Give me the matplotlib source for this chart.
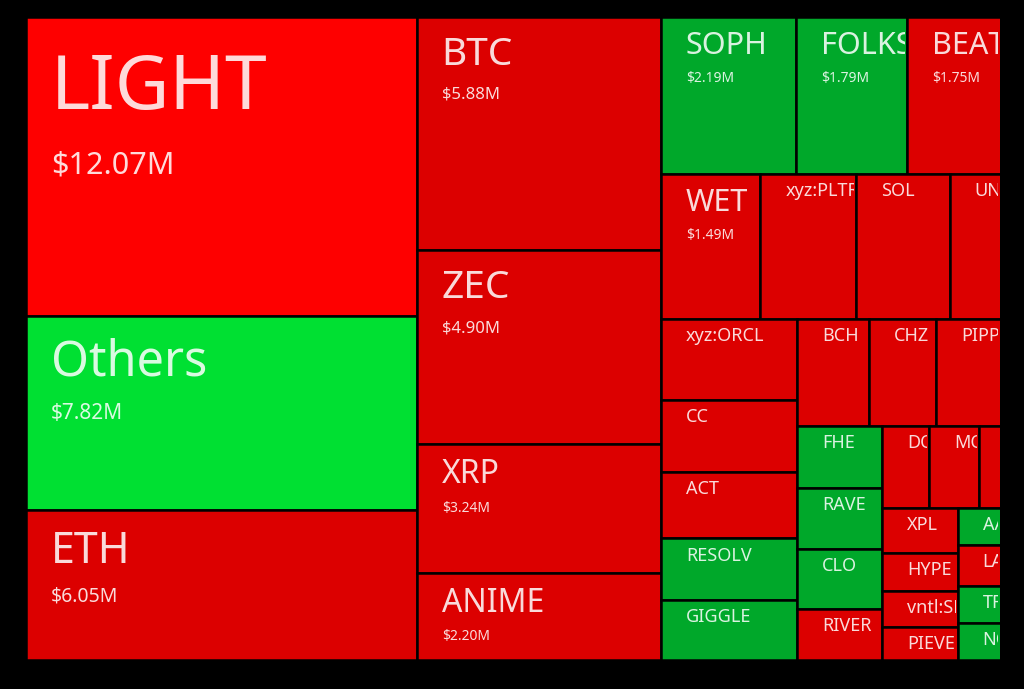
import matplotlib.pyplot as plt
from matplotlib.patches import Rectangle

# traded value per token, $M (unlabelled tiles estimated from their area)
big_names = ["LIGHT", "Others", "ETH"]
big_values = [12.07, 7.82, 6.05]
mid_names = ["BTC", "ZEC", "XRP", "ANIME"]
mid_values = [5.88, 4.90, 3.24, 2.20]
row1_names = ["SOPH", "FOLKS", "BEAT"]
row1_values = [2.19, 1.79, 1.75]
row2_names = ["WET", "xyz:PLTR", "SOL", "UNI"]
row2_values = [1.49, 1.43, 1.40, 0.98]
colA_names = ["xyz:ORCL", "CC", "ACT", "RESOLV", "GIGGLE"]
colA_values = [1.14, 1.01, 0.94, 0.87, 0.84]
rowB_names = ["BCH", "CHZ", "PIPPIN"]
rowB_values = [0.79, 0.75, 0.87]
colC_names = ["FHE", "RAVE", "CLO", "RIVER"]
colC_values = [0.55, 0.53, 0.53, 0.45]
rowD_names = ["DOGE", "MON", ""]
rowD_values = [0.40, 0.42, 0.31]
colE_names = ["XPL", "HYPE", "vntl:SPACEX", "PIEVERSE"]
colE_values = [0.35, 0.29, 0.28, 0.26]
colF_names = ["AAVE", "LAB", "TRUMP", "NOT"]
colF_values = [0.22, 0.24, 0.22, 0.22]

up = {"Others", "SOPH", "FOLKS", "RESOLV", "GIGGLE", "FHE", "RAVE", "CLO",
      "AAVE", "TRUMP", "NOT"}
show_value = {"LIGHT", "Others", "ETH", "BTC", "ZEC", "XRP", "ANIME",
              "SOPH", "FOLKS", "BEAT", "WET"}

name_size = {"LIGHT": 54, "Others": 35, "ETH": 31, "BTC": 28, "ZEC": 28,
             "XRP": 23, "ANIME": 23, "SOPH": 22, "FOLKS": 22, "BEAT": 22, "WET": 22}
value_size = {"LIGHT": 22, "Others": 15, "ETH": 14, "BTC": 12, "ZEC": 12,
              "XRP": 10, "ANIME": 10, "SOPH": 10, "FOLKS": 10, "BEAT": 10, "WET": 10}


def leaves(names, values):
    return ("leaf", list(zip(names, values)))


tree = ("h", [
    ("v", [leaves(big_names, big_values)]),
    ("v", [leaves(mid_names, mid_values)]),
    ("v", [
        ("h", [leaves(row1_names, row1_values)]),
        ("h", [leaves(row2_names, row2_values)]),
        ("h", [
            ("v", [leaves(colA_names, colA_values)]),
            ("v", [
                ("h", [leaves(rowB_names, rowB_values)]),
                ("h", [
                    ("v", [leaves(colC_names, colC_values)]),
                    ("v", [
                        ("h", [leaves(rowD_names, rowD_values)]),
                        ("h", [
                            ("v", [leaves(colE_names, colE_values)]),
                            ("v", [leaves(colF_names, colF_values)]),
                        ]),
                    ]),
                ]),
            ]),
        ]),
    ]),
])


def items(node):
    # flatten one level: a node holds either a single leaf group or sub nodes
    kind, kids = node
    out = []
    for k in kids:
        if k[0] == "leaf":
            out += [("item", p) for p in k[1]]
        else:
            out.append(("node", k))
    return kind, out


def total(node):
    kind, its = items(node)
    return sum(p[1] if t == "item" else total(p) for t, p in its)


def layout(node, x, y, w, h, out):
    kind, its = items(node)
    vals = [p[1] if t == "item" else total(p) for t, p in its]
    s = sum(vals)
    pos = x if kind == "h" else y
    for (t, p), v in zip(its, vals):
        if kind == "h":
            cw, ch, cx, cy = w * v / s, h, pos, y
            pos += cw
        else:
            cw, ch, cx, cy = w, h * v / s, x, pos
            pos += ch
        if t == "item":
            out.append((p[0], p[1], cx, cy, cw, ch))
        else:
            layout(p, cx, cy, cw, ch, out)


RED = "#dc0000"
RED_BIG = "#fe0000"
GREEN = "#00a82a"
GREEN_BIG = "#00e032"

fig = plt.figure(figsize=(10.24, 6.89), dpi=100, facecolor="black")
vis_right = 1000
ax = fig.add_axes([0, 0, vis_right / 1024, 1])
ax.set_xlim(0, vis_right)
ax.set_ylim(689, 0)
ax.axis("off")
ax.set_facecolor("black")

tiles = []
layout(tree, 26, 17, 989, 643, tiles)

for name, val, x, y, w, h in tiles:
    if name == "LIGHT":
        c = RED_BIG
    elif name == "Others":
        c = GREEN_BIG
    else:
        c = GREEN if name in up else RED
    ax.add_patch(Rectangle((x, y), w, h, facecolor=c, edgecolor="black", linewidth=1.8))
    clip = Rectangle((x, y), min(x + w, vis_right) - x - 2, h, transform=ax.transData)
    fs = name_size.get(name, 13)
    base = y + 0.7 * fs + fs
    t = ax.text(x + 25, base, name, fontsize=fs, color="white", alpha=0.86,
                family="Noto Sans", va="baseline", ha="left", clip_on=True)
    t.set_clip_path(clip)
    t.set_clip_on(True)
    if name in show_value:
        vfs = value_size[name]
        t2 = ax.text(x + 25, base + 0.8 * fs + vfs, f"${val:.2f}M", fontsize=vfs,
                     color="white", alpha=0.86, family="Noto Sans",
                     va="baseline", ha="left", clip_on=True)
        t2.set_clip_path(clip)
        t2.set_clip_on(True)

fig.savefig("out.png", dpi=100, facecolor="black")
